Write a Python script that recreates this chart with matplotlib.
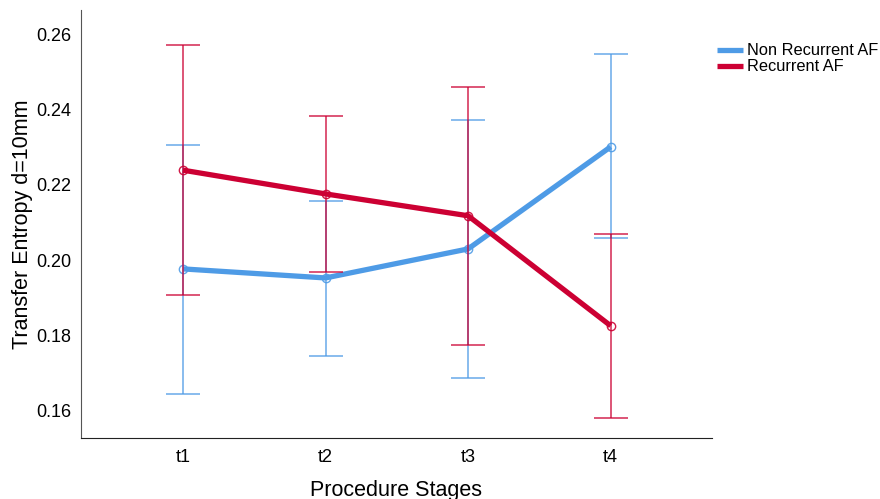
import matplotlib.pyplot as plt

plt.rcParams['font.family'] = ['Liberation Sans', 'DejaVu Sans']

stages = ["t1", "t2", "t3", "t4"]

non_rec_mean = [0.1977, 0.1953, 0.2030, 0.2301]
non_rec_low = [0.1645, 0.1746, 0.1687, 0.2058]
non_rec_high = [0.2306, 0.2157, 0.2372, 0.2547]

rec_mean = [0.2239, 0.2176, 0.2118, 0.1826]
rec_low = [0.1909, 0.1970, 0.1775, 0.1582]
rec_high = [0.2571, 0.2382, 0.2460, 0.2069]

blue = "#4e9be6"
red = "#cc0033"

fig = plt.figure(figsize=(8.8, 4.99), dpi=100)
ax = fig.add_axes([0.092, 0.122, 0.717, 0.858])

x = list(range(1, len(stages) + 1))

for mean, low, high, col, lab in [
    (non_rec_mean, non_rec_low, non_rec_high, blue, "Non Recurrent AF"),
    (rec_mean, rec_low, rec_high, red, "Recurrent AF"),
]:
    err = [[m - l for m, l in zip(mean, low)], [h - m for m, h in zip(mean, high)]]
    ax.errorbar(x, mean, yerr=err, fmt="none", ecolor=col, elinewidth=1.1,
                capsize=12.5, capthick=1.1, alpha=0.85)
    ax.plot(x, mean, color=col, lw=3.8, label=lab, solid_capstyle="butt")
    ax.plot(x, mean, "o", mfc="none", mec=col, ms=6, mew=1.0, alpha=0.9)

ax.set_xlim(0.285, 4.71)
ax.set_ylim(0.1528, 0.2664)
ax.set_xticks(x)
ax.set_xticklabels(stages)
ax.set_yticks([0.16, 0.18, 0.20, 0.22, 0.24, 0.26])
ax.set_yticklabels(["0.16", "0.18", "0.20", "0.22", "0.24", "0.26"])
ax.tick_params(length=0, labelsize=13)
ax.tick_params(axis="y", pad=7)
ax.tick_params(axis="x", pad=8)

ax.spines["top"].set_visible(False)
ax.spines["right"].set_visible(False)
ax.spines["left"].set_color("#555555")
ax.spines["bottom"].set_color("#222222")

ax.set_xlabel("Procedure Stages", fontsize=15.5, labelpad=10)
ax.set_ylabel("Transfer Entropy d=10mm", fontsize=15.5, labelpad=2)

handles, labels = ax.get_legend_handles_labels()
fig.legend(handles, labels, loc="upper left", bbox_to_anchor=(0.807, 0.926),
           frameon=False, fontsize=11.8, handlelength=1.6, handletextpad=0.25,
           labelspacing=0.05, borderaxespad=0)

fig.savefig("out.png", dpi=100)
